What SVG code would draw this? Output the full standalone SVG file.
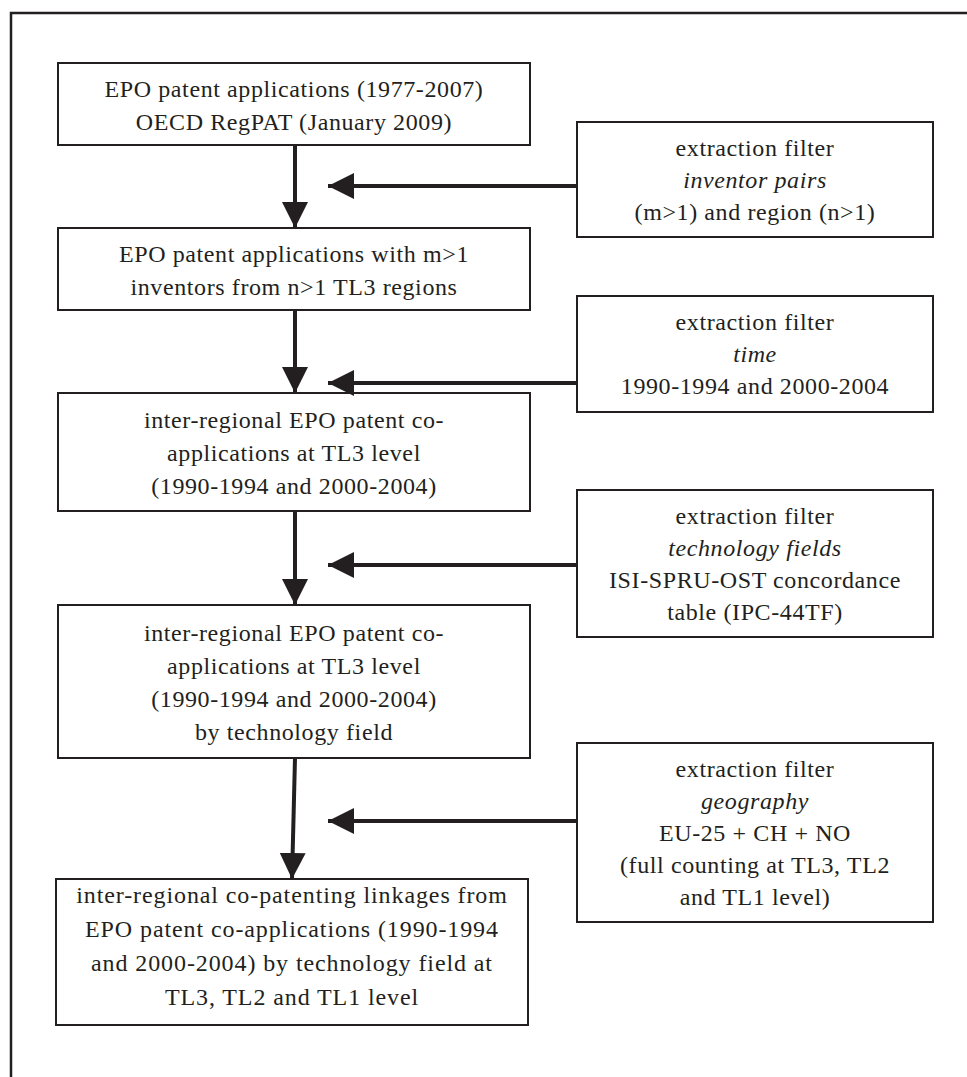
<svg xmlns="http://www.w3.org/2000/svg" width="967" height="1077" viewBox="0 0 967 1077">
  <style>
    .box { fill: #ffffff; stroke: #231f20; stroke-width: 2; }
    .frame { fill: none; stroke: #231f20; stroke-width: 2.5; }
    .conn { fill: none; stroke: #231f20; stroke-width: 4; }
    text { font-family: "Liberation Serif", "Times New Roman", serif; font-size: 24px; letter-spacing: 0.6px; fill: #231f20; text-anchor: middle; }
    .it { font-style: italic; }
    .wide { letter-spacing: 0.9px; }
  </style>
  <defs>
    <marker id="head" markerUnits="userSpaceOnUse" markerWidth="26" markerHeight="26" viewBox="0 0 26 26" refX="26" refY="13" orient="auto">
      <path d="M0,0 L26,13 L0,26 Z" fill="#231f20"/>
    </marker>
  </defs>

  <!-- outer frame -->
  <path class="frame" d="M11,1077 V13 H967"/>

  <!-- main processing chain -->
  <g id="n1">
    <rect class="box" x="58" y="63" width="472" height="82"/>
    <text x="294" y="97">EPO patent applications (1977-2007)</text>
    <text x="294" y="130">OECD RegPAT (January 2009)</text>
  </g>
  <g id="n2">
    <rect class="box" x="58" y="228" width="472" height="82"/>
    <text x="294" y="262">EPO patent applications with m&gt;1</text>
    <text x="294" y="295">inventors from n&gt;1 TL3 regions</text>
  </g>
  <g id="n3">
    <rect class="box" x="58" y="393" width="472" height="118"/>
    <text x="294" y="428">inter-regional EPO patent co-</text>
    <text x="294" y="461">applications at TL3 level</text>
    <text x="294" y="494">(1990-1994 and 2000-2004)</text>
  </g>
  <g id="n4">
    <rect class="box" x="58" y="605" width="472" height="153"/>
    <text x="294" y="641">inter-regional EPO patent co-</text>
    <text x="294" y="674">applications at TL3 level</text>
    <text x="294" y="707">(1990-1994 and 2000-2004)</text>
    <text x="294" y="740">by technology field</text>
  </g>
  <g id="n5">
    <rect class="box" x="56" y="879" width="472" height="146"/>
    <text class="wide" x="292" y="903">inter-regional co-patenting linkages from</text>
    <text class="wide" x="292" y="937">EPO patent co-applications  (1990-1994</text>
    <text class="wide" x="292" y="971">and 2000-2004) by technology field at</text>
    <text class="wide" x="292" y="1005">TL3, TL2 and TL1 level</text>
  </g>

  <!-- extraction filters -->
  <g id="f1">
    <rect class="box" x="577" y="122" width="356" height="115"/>
    <text x="755" y="156">extraction filter</text>
    <text x="755" y="188" class="it">inventor pairs</text>
    <text x="755" y="220">(m&gt;1) and region (n&gt;1)</text>
  </g>
  <g id="f2">
    <rect class="box" x="577" y="296" width="356" height="116"/>
    <text x="755" y="330">extraction filter</text>
    <text x="755" y="362" class="it">time</text>
    <text x="755" y="394">1990-1994 and 2000-2004</text>
  </g>
  <g id="f3">
    <rect class="box" x="577" y="490" width="356" height="147"/>
    <text x="755" y="524">extraction filter</text>
    <text x="755" y="556" class="it">technology fields</text>
    <text x="755" y="588">ISI-SPRU-OST concordance</text>
    <text x="755" y="620">table (IPC-44TF)</text>
  </g>
  <g id="f4">
    <rect class="box" x="577" y="743" width="356" height="179"/>
    <text x="755" y="777">extraction filter</text>
    <text x="755" y="809" class="it">geography</text>
    <text x="755" y="841">EU-25 + CH + NO</text>
    <text x="755" y="873">(full counting at TL3, TL2</text>
    <text x="755" y="905">and TL1 level)</text>
  </g>

  <!-- connectors -->
  <g id="connectors">
    <path class="conn" d="M295,145 V228" marker-end="url(#head)"/>
    <path class="conn" d="M295,310 V393" marker-end="url(#head)"/>
    <path class="conn" d="M295,511 V605" marker-end="url(#head)"/>
    <path class="conn" d="M295,758 L292,879" marker-end="url(#head)"/>
    <path class="conn" d="M577,186 H328" marker-end="url(#head)"/>
    <path class="conn" d="M577,383 H328" marker-end="url(#head)"/>
    <path class="conn" d="M577,565 H328" marker-end="url(#head)"/>
    <path class="conn" d="M577,821 H328" marker-end="url(#head)"/>
  </g>
</svg>
